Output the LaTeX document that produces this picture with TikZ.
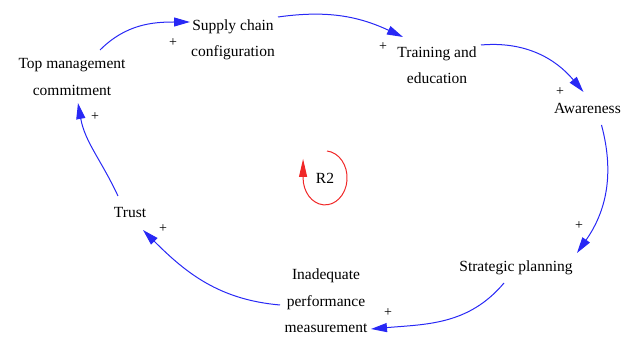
\documentclass[tikz,border=0pt]{standalone}
\usepackage{fontspec}
\setmainfont{Liberation Serif}
\newfontfamily\diagfont{Liberation Serif}
\usetikzlibrary{arrows.meta}
\definecolor{loopblue}{RGB}{40,40,245}
\definecolor{loopred}{RGB}{240,40,40}
\tikzset{
  var/.style={inner sep=0pt, align=center, font=\diagfont\fontsize{15.5}{26.5}\selectfont},
  pol/.style={inner sep=0pt, font=\diagfont\fontsize{14}{16}\selectfont},
  link/.style={draw=loopblue, line width=1pt, -{Triangle[length=16pt,width=9pt]}},
  rlink/.style={draw=loopred, line width=1pt, -{Triangle[length=18pt,width=8pt]}}
}
\begin{document}
\begin{tikzpicture}[x=1pt,y=1pt]
\useasboundingbox (0,0) rectangle (625,340);
% variables
\node[var] (top) at (72,263) {Top management\\commitment};
\node[var] (sup) at (233,300) {Supply chain\\configuration};
\node[var] (tra) at (437,275) {Training and\\education};
\node[var,anchor=west] (awa) at (554,232) {Awareness};
\node[var] (str) at (516,72) {Strategic planning};
\node[var] (ina) at (326,39) {Inadequate\\performance\\measurement};
\node[var] (tru) at (130,127) {Trust};
\node[var] (r2) at (325,162) {R2};
% polarities
\node[pol] (p1) at (173,297) {+};
\node[pol] (p2) at (383,293) {+};
\node[pol] (p3) at (560,248) {+};
\node[pol] (p4) at (579,114) {+};
\node[pol] (p5) at (388,27) {+};
\node[pol] (p6) at (163,111) {+};
\node[pol] (p7) at (95,223) {+};
% links
\draw[link] ([shift={(28,27)}]top.center) to[out=45,in=180] ([shift={(-43,18)}]sup.center);
\draw[link] ([shift={(45,23)}]sup.center) to[out=8,in=155] ([shift={(-34,28)}]tra.center);
\draw[link] ([shift={(44,20)}]tra.center) to[out=5,in=130] ([shift={(-4,16)}]awa.center);
\draw[link] ([shift={(14,-17)}]awa.center) to[out=-75,in=55] ([shift={(61,15)}]str.center);
\draw[link] ([shift={(-12,-15)}]str.center) to[out=-130,in=5] ([shift={(45,-28)}]ina.center);
\draw[link] ([shift={(-46,-4)}]ina.center) to[out=175,in=-45] ([shift={(13,-17)}]tru.center);
\draw[link] ([shift={(-12,17)}]tru.center) to[out=115,in=-80] ([shift={(6,-26)}]top.center);
% loop marker
\draw[rlink] ([shift={(2,27)}]r2.center) arc[start angle=85,end angle=-180,x radius=22,y radius=27] -- ++(0,19);
\end{tikzpicture}
\end{document}
